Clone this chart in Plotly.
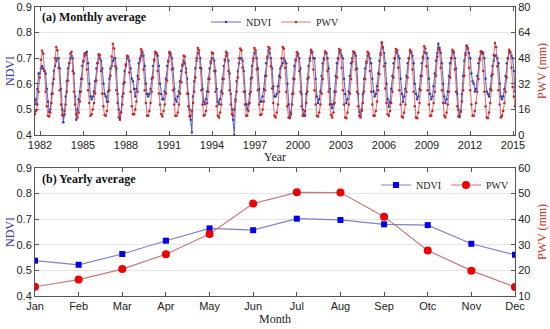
import plotly.graph_objects as go

years = list(range(1982, 2016))
months = ["Jan", "Feb", "Mar", "Apr", "May", "Jun", "Jul", "Aug", "Sep", "Otc", "Nov", "Dec"]

ndvi_monthly = [
    [.54, .52, .58, .64, .64, .66, .67, .66, .65, .64, .58, .53],
    [.49, .50, .56, .60, .65, .67, .69, .70, .70, .66, .58, .50],
    [.45, .48, .55, .61, .66, .68, .70, .71, .70, .64, .55, .46],
    [.50, .54, .57, .62, .67, .69, .71, .72, .725, .68, .60, .55],
    [.54, .55, .57, .61, .66, .68, .71, .70, .69, .66, .60, .56],
    [.55, .53, .57, .62, .66, .67, .69, .70, .70, .66, .56, .50],
    [.46, .49, .55, .60, .65, .67, .70, .70, .69, .66, .62, .61],
    [.58, .55, .58, .63, .68, .69, .71, .72, .71, .67, .60, .56],
    [.55, .56, .58, .62, .67, .69, .72, .72, .71, .67, .60, .56],
    [.54, .54, .57, .62, .67, .69, .72, .71, .70, .66, .58, .54],
    [.53, .55, .57, .61, .65, .67, .69, .68, .66, .62, .56, .50],
    [.46, .41, .55, .61, .66, .69, .72, .72, .70, .66, .58, .53],
    [.52, .54, .57, .62, .66, .68, .70, .70, .69, .65, .58, .53],
    [.52, .54, .57, .62, .67, .69, .71, .71, .69, .64, .56, .50],
    [.46, .40, .54, .61, .65, .68, .70, .70, .69, .65, .57, .52],
    [.50, .52, .56, .62, .67, .69, .72, .72, .70, .66, .58, .53],
    [.53, .55, .58, .63, .68, .70, .73, .72, .70, .66, .59, .55],
    [.55, .56, .59, .63, .66, .67, .68, .70, .69, .68, .60, .52],
    [.47, .48, .56, .62, .67, .69, .71, .71, .70, .66, .56, .50],
    [.48, .475, .56, .62, .67, .69, .725, .72, .70, .70, .62, .55],
    [.525, .54, .57, .63, .68, .70, .725, .72, .70, .66, .58, .52],
    [.505, .52, .57, .63, .68, .70, .725, .72, .71, .70, .62, .56],
    [.525, .54, .57, .63, .68, .70, .725, .72, .71, .66, .56, .49],
    [.475, .50, .56, .62, .66, .68, .71, .71, .70, .68, .62, .57],
    [.55, .56, .59, .64, .69, .72, .756, .74, .72, .68, .60, .54],
    [.51, .53, .58, .63, .68, .70, .725, .72, .71, .70, .62, .56],
    [.53, .55, .58, .63, .68, .70, .725, .72, .71, .68, .60, .56],
    [.54, .55, .58, .63, .68, .70, .725, .72, .72, .70, .62, .56],
    [.54, .55, .59, .64, .69, .72, .756, .74, .72, .68, .60, .55],
    [.525, .54, .57, .63, .68, .70, .725, .72, .70, .66, .56, .50],
    [.47, .49, .56, .63, .69, .72, .75, .74, .72, .70, .64, .61],
    [.60, .57, .58, .63, .68, .70, .725, .725, .72, .70, .62, .57],
    [.56, .55, .58, .63, .67, .69, .71, .71, .70, .68, .60, .55],
    [.54, .55, .58, .63, .68, .70, .725, .72, .71, .70, .65, .57],
]

pwv_monthly = [
    [13, 15, 19, 27, 36, 47, 52.7, 51, 40, 27, 18, 12],
    [11.5, 14, 20, 26, 35, 48, 55, 53, 42, 28, 19, 12.5],
    [12, 15, 19, 27, 34, 45, 51, 52, 40, 27, 19, 13],
    [11, 14, 21, 27, 35, 46, 51, 50, 41, 28, 20, 12],
    [13, 16, 20, 26, 34, 45, 50.5, 50, 40, 26, 18, 12.5],
    [12, 15, 21, 28, 37, 49, 57, 54, 43, 28, 20, 11],
    [11, 14, 19, 26, 33, 44, 49.6, 49, 39, 27, 18, 13],
    [13, 16, 21, 27, 35, 48, 53.6, 52, 41, 28, 20, 12],
    [12, 15, 20, 27, 36, 47, 52, 51, 40, 26, 19, 13],
    [11.5, 15, 19, 26, 34, 46, 52, 51, 41, 28, 19, 12],
    [12, 14, 19, 26, 33, 44, 49.6, 49, 39, 26, 18, 11.5],
    [12, 15, 20, 27, 36, 48, 54.4, 53, 42, 28, 19, 12],
    [12.5, 15, 20, 27, 35, 46, 51.5, 51, 40, 27, 18, 12],
    [11, 14, 19, 26, 35, 47, 52, 51, 40, 28, 19, 13],
    [12, 16, 21, 27, 36, 48, 54, 53, 42, 27, 19, 12],
    [12, 15, 20, 27, 36, 48, 54.4, 53, 41, 28, 19, 12.5],
    [13, 16, 21, 28, 37, 49, 55, 54, 43, 29, 20, 12],
    [11, 14, 19, 27, 36, 48, 55, 54, 42, 27, 18, 11],
    [10.5, 14, 19, 26, 35, 47, 51.8, 51, 40, 27, 18, 12],
    [12, 15, 20, 27, 36, 48, 53.3, 52, 41, 28, 19, 12],
    [11.5, 14, 19, 26, 35, 47, 52.2, 51, 40, 27, 19, 12.5],
    [11, 14, 20, 27, 36, 48, 53.7, 53, 42, 28, 19, 11],
    [10.5, 14, 19, 26, 35, 46, 52.2, 51, 41, 27, 18, 12],
    [11, 15, 20, 27, 35, 46, 52, 51, 40, 27, 19, 12],
    [12, 15, 21, 28, 38, 50, 58, 55, 43, 29, 20, 13],
    [12, 15, 20, 27, 36, 48, 53.7, 53, 42, 28, 19, 11.5],
    [11, 14, 19, 27, 36, 48, 53.3, 52, 41, 27, 18, 11],
    [10.5, 14, 20, 28, 37, 49, 55.4, 54, 43, 28, 19, 12],
    [12, 15, 20, 27, 37, 49, 54.3, 53, 42, 28, 20, 12],
    [11, 14, 19, 27, 36, 48, 53.3, 52, 41, 27, 18, 11.5],
    [12, 15, 21, 28, 37, 50, 55.4, 54, 42, 28, 19, 12],
    [12, 15, 20, 27, 35, 47, 52.2, 51, 40, 27, 18, 11],
    [10.5, 14, 20, 28, 38, 50, 57.5, 55, 43, 28, 19, 11],
    [12, 15, 20, 27, 36, 48, 53.3, 52, 42, 30, 24, 18],
]

ndvi_yearly = [0.538, 0.522, 0.564, 0.616, 0.664, 0.657, 0.702, 0.697, 0.680, 0.677, 0.604, 0.561]
pwv_yearly = [13.6, 16.4, 20.5, 26.3, 34.2, 46.1, 50.5, 50.4, 41.0, 27.8, 19.9, 13.5]

year_tick_labels = [str(y) for y in range(1982, 2016, 3)]

# flatten monthly series
t = []
ndvi_flat = []
pwv_flat = []
for yi, y in enumerate(years):
    for m in range(12):
        t.append(y + m / 12)
        ndvi_flat.append(ndvi_monthly[yi][m])
        pwv_flat.append(pwv_monthly[yi][m])

t_lo, t_hi = t[0], t[-1]
n_ticks = len(year_tick_labels)
tick_start = t_lo + (t_hi - t_lo) * 5 / 480
tick_end = t_lo + (t_hi - t_lo) * 478 / 480
tickvals = [tick_start + (tick_end - tick_start) * k / (n_ticks - 1) for k in range(n_ticks)]

BLUE = "#3a3aa8"
RED = "#c0392b"
SERIF = "Liberation Serif"
SANS = "Liberation Sans"
H = 329

fig = go.Figure()

fig.add_trace(go.Scatter(
    x=t, y=ndvi_flat, name="NDVI", mode="lines+markers",
    line=dict(color="rgba(70,80,190,0.85)", width=1.1),
    marker=dict(size=2.5, color="#3040b0"),
    xaxis="x", yaxis="y", legend="legend"))
fig.add_trace(go.Scatter(
    x=t, y=pwv_flat, name="PWV", mode="lines+markers",
    line=dict(color="rgba(205,90,90,0.8)", width=1.1),
    marker=dict(size=2.5, color="#d02020"),
    xaxis="x", yaxis="y2", legend="legend"))

fig.add_trace(go.Scatter(
    x=months, y=ndvi_yearly, name="NDVI", mode="lines+markers",
    line=dict(color="#8080c4", width=1.2),
    marker=dict(symbol="square", size=6, color="#0000ee"),
    xaxis="x2", yaxis="y3", legend="legend2"))
fig.add_trace(go.Scatter(
    x=months, y=pwv_yearly, name="PWV", mode="lines+markers",
    line=dict(color="#c87878", width=1.2),
    marker=dict(symbol="circle", size=8, color="#ee0000"),
    xaxis="x2", yaxis="y4", legend="legend2"))

axis_common = dict(showline=True, linecolor="#555", linewidth=1, automargin=False,
                   ticks="inside", ticklen=4, tickcolor="#555", zeroline=False,
                   tickfont=dict(family=SANS, size=11, color="#222"))

top_dom = [1 - 135 / H, 1 - 7 / H]
bot_dom = [1 - 296 / H, 1 - 168 / H]


def py(px):
    return 1 - px / H


fig.update_layout(
    width=550, height=H,
    margin=dict(l=35, r=35, t=0, b=0, autoexpand=False),
    paper_bgcolor="white", plot_bgcolor="white",
    showlegend=True,
    xaxis=dict(domain=[0, 1], anchor="y", range=[t_lo, t_hi],
               tickvals=tickvals, ticktext=year_tick_labels, mirror="ticks",
               showgrid=False, **axis_common),
    yaxis=dict(domain=top_dom, anchor="x", range=[0.4, 0.9], dtick=0.1, tickformat=".1f",
               showgrid=True, gridcolor="#e6e6e6", mirror=True, **axis_common),
    yaxis2=dict(overlaying="y", side="right", anchor="x", range=[0, 80], dtick=16,
                showgrid=False, **axis_common),
    xaxis2=dict(domain=[0, 1], anchor="y3", range=[0, 11], mirror="ticks",
                showgrid=False, **axis_common),
    yaxis3=dict(domain=bot_dom, anchor="x2", range=[0.4, 0.9], dtick=0.1, tickformat=".1f",
                showgrid=True, gridcolor="#e6e6e6", mirror=True, **axis_common),
    yaxis4=dict(overlaying="y3", side="right", anchor="x2", range=[10, 60], dtick=10,
                showgrid=False, **axis_common),
    legend=dict(orientation="h", x=(206 - 35) / 480, y=py(22), xanchor="left", yanchor="middle",
                bgcolor="rgba(255,255,255,0)", font=dict(family=SERIF, size=10, color="#222"),
                itemwidth=30),
    legend2=dict(orientation="h", x=(376 - 35) / 480, y=py(185), xanchor="left", yanchor="middle",
                 bgcolor="rgba(255,255,255,0)", font=dict(family=SERIF, size=10, color="#222"),
                 itemwidth=30),
    annotations=[
        dict(text="<b>(a) Monthly average</b>", xref="paper", yref="paper",
             x=5 / 480, y=py(17), xanchor="left", yanchor="middle", showarrow=False,
             font=dict(family=SERIF, size=12, color="#111")),
        dict(text="<b>(b) Yearly average</b>", xref="paper", yref="paper",
             x=5 / 480, y=py(179), xanchor="left", yanchor="middle", showarrow=False,
             font=dict(family=SERIF, size=12, color="#111")),
        dict(text="NDVI", xref="paper", yref="paper", x=(10 - 35) / 480, y=py(71),
             xanchor="center", yanchor="middle", textangle=-90, showarrow=False,
             font=dict(family=SERIF, size=12, color=BLUE)),
        dict(text="NDVI", xref="paper", yref="paper", x=(10 - 35) / 480, y=py(232),
             xanchor="center", yanchor="middle", textangle=-90, showarrow=False,
             font=dict(family=SERIF, size=12, color=BLUE)),
        dict(text="PWV (mm)", xref="paper", yref="paper", x=(542 - 35) / 480, y=py(71),
             xanchor="center", yanchor="middle", textangle=-90, showarrow=False,
             font=dict(family=SERIF, size=12, color=RED)),
        dict(text="PWV (mm)", xref="paper", yref="paper", x=(542 - 35) / 480, y=py(232),
             xanchor="center", yanchor="middle", textangle=-90, showarrow=False,
             font=dict(family=SERIF, size=12, color=RED)),
        dict(text="Year", xref="paper", yref="paper", x=0.5, y=py(157),
             xanchor="center", yanchor="middle", showarrow=False,
             font=dict(family=SERIF, size=12, color="#222")),
        dict(text="Month", xref="paper", yref="paper", x=0.5, y=py(319),
             xanchor="center", yanchor="middle", showarrow=False,
             font=dict(family=SERIF, size=12, color="#222")),
    ],
)

fig.write_html("out.html", config={"displayModeBar": False},
               post_script="document.body.style.margin='0';document.body.style.overflow='hidden';")
